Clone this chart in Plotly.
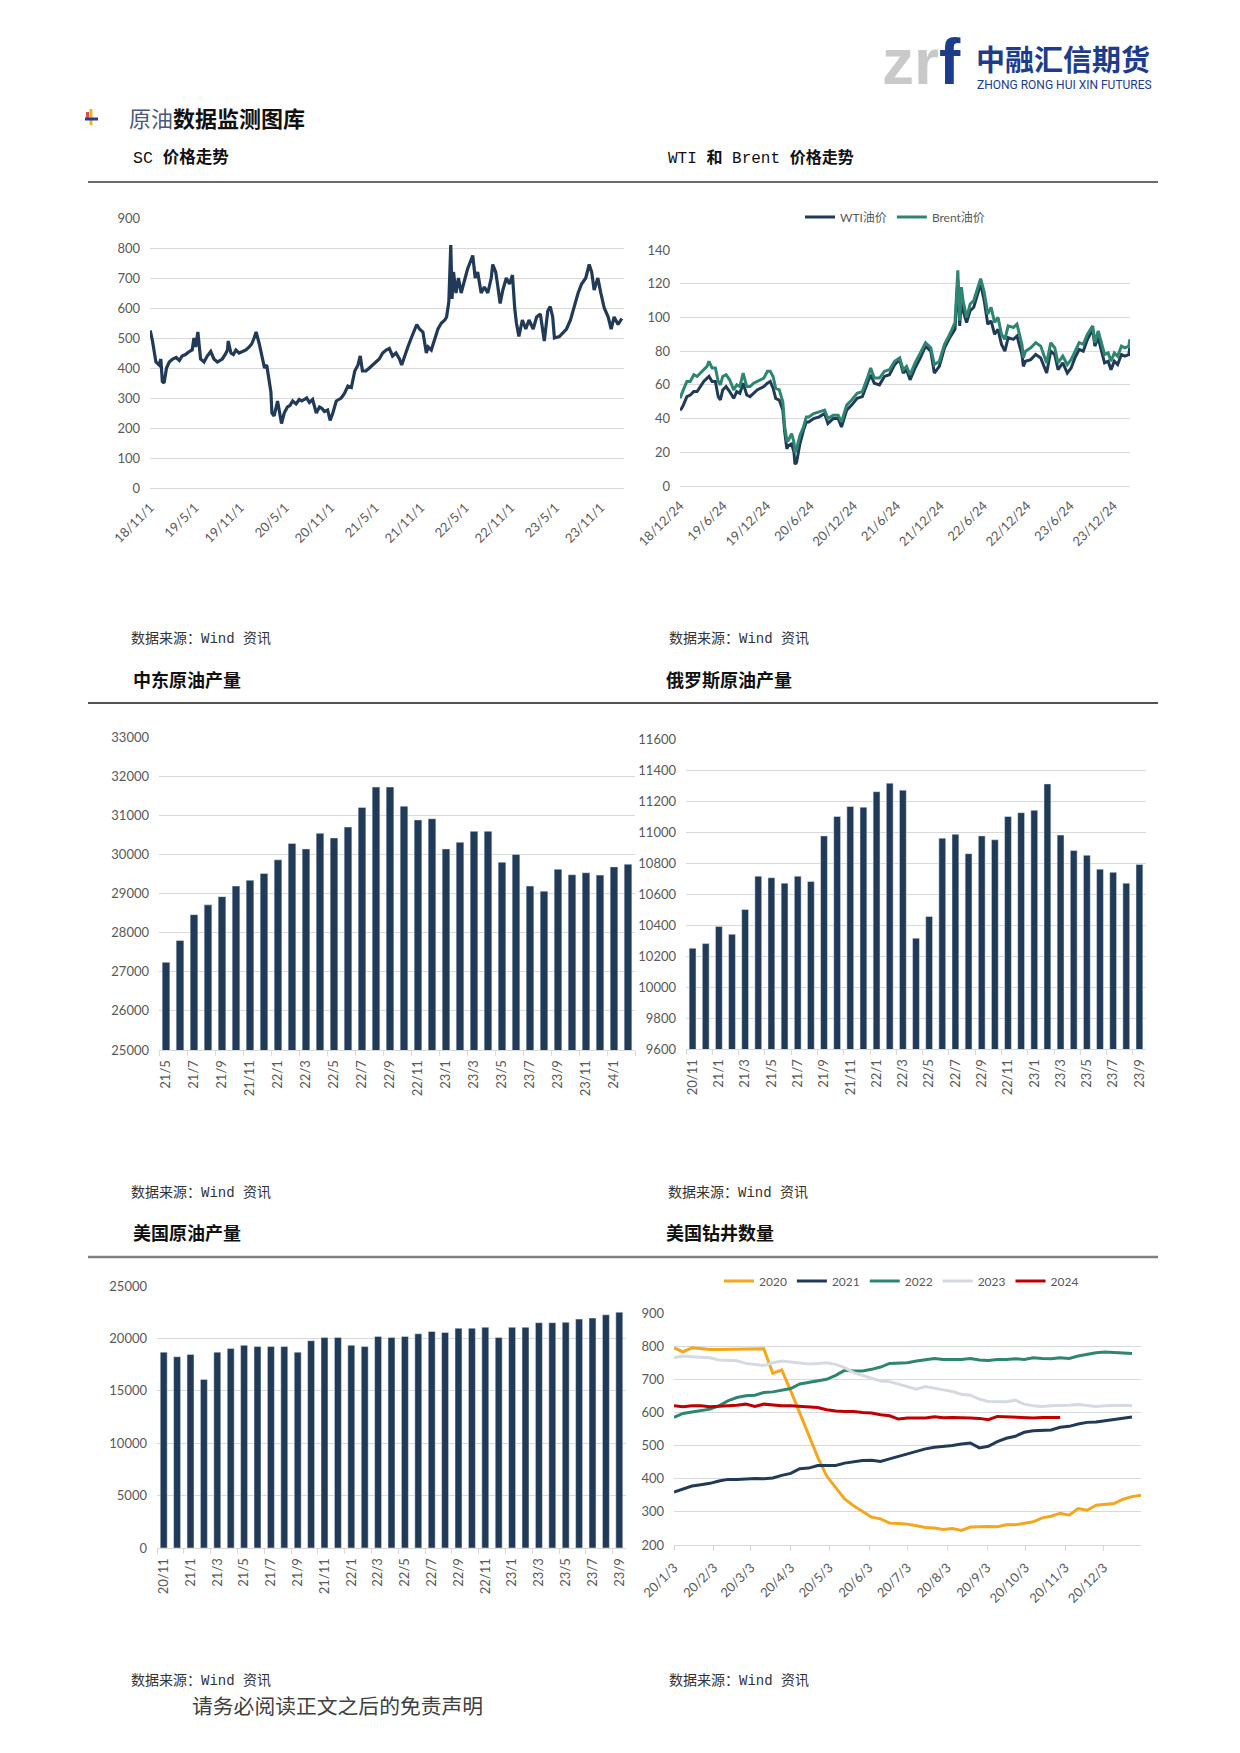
import plotly.graph_objects as go
import pandas as pd

W, H = 1240, 1753

# ---------------- data ----------------
sc_dates = ["2018-11-01","2018-11-10","2018-11-24","2018-12-07","2018-12-14","2018-12-20","2018-12-27",
 "2019-01-06","2019-01-17","2019-01-31","2019-02-14","2019-02-27","2019-03-10","2019-03-24","2019-04-08",
 "2019-04-20","2019-04-27","2019-05-04","2019-05-13","2019-05-24","2019-06-07","2019-06-20","2019-07-04",
 "2019-07-17","2019-07-31","2019-08-10","2019-08-20","2019-09-01","2019-09-10","2019-09-13","2019-09-24",
 "2019-10-04","2019-10-14","2019-10-27","2019-11-10","2019-11-24","2019-12-07","2019-12-17","2019-12-27",
 "2020-01-04","2020-01-17","2020-01-31","2020-02-07","2020-02-16","2020-02-24","2020-03-04","2020-03-08",
 "2020-03-17","2020-03-31","2020-04-07","2020-04-16","2020-04-27","2020-05-10","2020-05-20","2020-05-31",
 "2020-06-14","2020-06-27","2020-07-07","2020-07-17","2020-07-27","2020-08-07","2020-08-20","2020-09-04",
 "2020-09-17","2020-09-27","2020-10-07","2020-10-20","2020-10-30","2020-11-10","2020-11-24","2020-12-04",
 "2020-12-14","2020-12-27","2021-01-10","2021-01-24","2021-02-07","2021-02-20","2021-03-01","2021-03-10",
 "2021-03-24","2021-04-07","2021-04-20","2021-05-04","2021-05-17","2021-05-31","2021-06-14","2021-06-27",
 "2021-07-10","2021-07-24","2021-08-07","2021-08-16","2021-08-27","2021-09-10","2021-09-24","2021-10-07",
 "2021-10-16","2021-10-27","2021-11-10","2021-11-24","2021-12-01","2021-12-14","2021-12-27","2022-01-10",
 "2022-01-24","2022-02-07","2022-02-14","2022-02-23","2022-03-03","2022-03-08","2022-03-14","2022-03-24",
 "2022-04-03","2022-04-14","2022-04-27","2022-05-10","2022-05-24","2022-05-31","2022-06-10","2022-06-20",
 "2022-07-04","2022-07-17","2022-07-31","2022-08-14","2022-08-20","2022-09-01","2022-09-10","2022-09-19",
 "2022-09-30","2022-10-14","2022-10-27","2022-11-08","2022-11-17","2022-11-24","2022-12-04","2022-12-18",
 "2023-01-01","2023-01-14","2023-01-31","2023-02-14","2023-03-01","2023-03-10","2023-03-17","2023-03-31",
 "2023-04-10","2023-04-20","2023-04-27","2023-05-17","2023-06-01","2023-06-15","2023-07-01","2023-07-15",
 "2023-08-01","2023-08-15","2023-09-01","2023-09-15","2023-09-25","2023-10-05","2023-10-20","2023-11-01",
 "2023-11-15","2023-12-01","2023-12-13","2023-12-25","2024-01-10","2024-01-25"]
sc_values = [525,490,420,410,430,355,350,
 400,420,430,435,425,440,445,455,
 460,500,470,520,430,420,440,455,
 430,420,425,430,445,460,490,450,
 445,460,450,455,460,470,480,500,
 520,480,430,400,410,370,320,250,
 240,290,260,215,250,270,275,290,
 280,295,290,295,300,285,295,250,
 270,265,255,260,225,250,290,295,
 300,315,340,335,390,410,440,390,
 390,400,410,420,430,450,460,465,
 440,450,430,410,440,470,500,530,
 545,530,520,450,470,460,490,530,
 550,560,570,620,810,630,720,650,
 700,650,690,730,760,775,700,720,
 650,670,650,700,745,720,670,615,
 660,700,680,710,600,550,505,560,
 530,560,530,570,580,530,490,590,
 605,570,500,505,520,530,560,600,
 650,680,700,745,720,660,700,650,
 600,570,530,570,545,565]
sc_tick_dates = ["2018-11-01","2019-05-01","2019-11-01","2020-05-01","2020-11-01","2021-05-01",
                 "2021-11-01","2022-05-01","2022-11-01","2023-05-01","2023-11-01"]
sc_tick_labels = ["18/11/1","19/5/1","19/11/1","20/5/1","20/11/1","21/5/1",
                  "21/11/1","22/5/1","22/11/1","23/5/1","23/11/1"]

oil_dates = ["2018-12-24","2018-12-31","2019-01-07","2019-01-22","2019-02-05","2019-02-20","2019-03-06",
 "2019-03-20","2019-04-03","2019-04-17","2019-04-25","2019-05-08","2019-05-22","2019-06-03","2019-06-12",
 "2019-06-22","2019-07-06","2019-07-21","2019-08-07","2019-08-20","2019-09-02","2019-09-16","2019-10-01",
 "2019-10-15","2019-10-30","2019-11-14","2019-11-28","2019-12-12","2019-12-27","2020-01-08","2020-01-20",
 "2020-01-31","2020-02-15","2020-03-01","2020-03-09","2020-03-18","2020-03-24","2020-04-07","2020-04-17",
 "2020-04-21","2020-04-28","2020-05-12","2020-05-27","2020-06-08","2020-06-18","2020-07-09","2020-08-01",
 "2020-08-24","2020-09-07","2020-09-29","2020-10-20","2020-11-03","2020-11-25","2020-12-16","2021-01-08",
 "2021-01-30","2021-02-20","2021-03-06","2021-03-21","2021-04-12","2021-05-03","2021-05-24","2021-06-15",
 "2021-07-06","2021-07-21","2021-08-04","2021-08-19","2021-09-09","2021-10-01","2021-10-23","2021-11-14",
 "2021-11-29","2021-12-20","2022-01-11","2022-02-02","2022-02-24","2022-03-08","2022-03-16","2022-03-23",
 "2022-03-30","2022-04-14","2022-04-29","2022-05-14","2022-05-28","2022-06-12","2022-06-27","2022-07-12",
 "2022-07-26","2022-08-10","2022-08-24","2022-09-08","2022-09-22","2022-10-06","2022-10-28","2022-11-12",
 "2022-12-03","2022-12-09","2022-12-18","2023-01-09","2023-01-30","2023-02-20","2023-03-17","2023-04-03",
 "2023-04-20","2023-05-04","2023-05-24","2023-06-12","2023-06-28","2023-07-14","2023-08-01","2023-08-18",
 "2023-09-05","2023-09-27","2023-10-06","2023-10-20","2023-11-03","2023-11-16","2023-12-01","2023-12-13",
 "2023-12-27","2024-01-10","2024-01-26","2024-02-09","2024-02-26","2024-03-01"]
wti_values = [45,46,48,53,54,56,56,
 59,62,64,65,62,62,53,51,
 57,59,56,52,56,55,61,54,
 53,55,57,58,59,61,62,58,
 52,51,45,32,22,24,25,20,
 13,14,25,33,38,38,40,41,
 43,37,40,40,35,45,48,52,
 53,61,66,61,60,65,66,72,
 75,67,69,63,70,76,83,80,
 67,71,82,88,93,122,95,112,
 104,97,104,106,113,120,110,96,
 98,90,93,84,80,88,87,89,
 78,71,74,75,78,76,67,80,
 78,69,73,67,70,76,81,80,
 87,93,83,88,80,73,74,69,
 74,72,78,77,78,82]
brent_values = [52,55,57,62,62,66,65,
 67,69,71,74,70,70,62,60,
 65,66,63,57,60,59,67,59,
 59,61,62,63,64,68,68,65,
 58,57,50,35,27,27,31,26,
 20,22,30,35,41,41,43,44,
 45,40,42,42,38,48,51,55,
 56,64,70,64,64,68,69,74,
 76,69,71,66,73,79,85,82,
 72,74,84,90,97,128,98,118,
 110,100,108,110,116,123,115,102,
 106,97,100,90,87,95,94,96,
 84,76,80,82,85,83,73,85,
 82,73,77,72,75,80,85,84,
 90,95,85,92,85,78,79,74,
 79,77,83,82,83,87]
oil_tick_dates = ["2018-12-24","2019-06-24","2019-12-24","2020-06-24","2020-12-24","2021-06-24",
                  "2021-12-24","2022-06-24","2022-12-24","2023-06-24","2023-12-24"]
oil_tick_labels = ["18/12/24","19/6/24","19/12/24","20/6/24","20/12/24","21/6/24",
                   "21/12/24","22/6/24","22/12/24","23/6/24","23/12/24"]

me_months = ["21/5","21/6","21/7","21/8","21/9","21/10","21/11","21/12",
 "22/1","22/2","22/3","22/4","22/5","22/6","22/7","22/8","22/9","22/10","22/11","22/12",
 "23/1","23/2","23/3","23/4","23/5","23/6","23/7","23/8","23/9","23/10","23/11","23/12",
 "24/1","24/2"]
me_values = [27240,27800,28460,28710,28920,29190,29340,29510,
 29860,30280,30140,30540,30420,30700,31200,31720,31720,31230,30880,30910,
 30140,30310,30590,30590,29800,30000,29190,29060,29620,29480,29530,29470,
 29680,29750]

ru_months = ["20/11","20/12",
 "21/1","21/2","21/3","21/4","21/5","21/6","21/7","21/8","21/9","21/10","21/11","21/12",
 "22/1","22/2","22/3","22/4","22/5","22/6","22/7","22/8","22/9","22/10","22/11","22/12",
 "23/1","23/2","23/3","23/4","23/5","23/6","23/7","23/8","23/9"]
ru_values = [10250,10280,
 10390,10340,10500,10715,10705,10670,10715,10680,10975,11100,11165,11160,
 11260,11315,11270,10315,10455,10960,10985,10860,10975,10950,11100,11125,
 11140,11310,10980,10880,10850,10760,10740,10670,10790]

us_months = ["20/11","20/12",
 "21/1","21/2","21/3","21/4","21/5","21/6","21/7","21/8","21/9","21/10","21/11","21/12",
 "22/1","22/2","22/3","22/4","22/5","22/6","22/7","22/8","22/9","22/10","22/11","22/12",
 "23/1","23/2","23/3","23/4","23/5","23/6","23/7","23/8","23/9"]
us_values = [18690,18250,
 18470,16090,18690,19030,19340,19220,19220,19220,18690,19780,20090,20090,
 19340,19220,20190,20090,20190,20440,20660,20560,20970,20970,21060,20090,
 21060,21060,21500,21500,21530,21840,21940,22250,22500]

rig_2020 = [795,783,795,792,790,790,790,792,790,792,
 792,718,728,665,600,530,465,408,374,339,
 318,301,284,279,266,265,263,258,253,251,
 247,250,244,254,256,256,255,261,261,266,
 270,282,287,296,290,310,305,320,323,325,
 338,346,350]
rig_2021 = [360,370,378,382,386,393,398,398,400,401,
 400,402,410,416,430,432,440,440,440,447,
 452,455,456,452,460,468,475,482,490,495,
 497,500,505,508,493,498,512,522,528,540,
 545,546,547,555,558,565,570,571,575,578,
 583,586]
rig_2022 = [585,597,601,605,610,620,635,645,650,652,
 660,662,668,672,686,690,695,700,712,727,
 725,725,730,737,748,748,750,755,760,763,
 760,760,760,763,758,757,760,760,762,760,
 765,763,762,765,763,770,775,780,782,780,
 778,778]
rig_2023 = [765,770,768,766,765,758,757,756,748,745,
 742,750,755,752,748,746,748,750,745,735,
 720,712,705,695,693,686,678,670,678,672,
 668,663,655,652,640,633,633,632,637,625,
 620,618,620,620,622,624,620,618,620,622,
 622,620]
rig_2024 = [620,617,620,620,617,618,620,622,625,618,
 625,622,620,620,618,618,615,608,604,603,
 603,600,598,593,590,580,583,583,583,587,
 584,585,583,583,582,578,588,587,585,584,
 583,585,585,585]
rig_years = ["2020","2021","2022","2023","2024"]
rig_tick_dates = ["2020-01-03","2020-02-03","2020-03-03","2020-04-03","2020-05-03","2020-06-03",
                  "2020-07-03","2020-08-03","2020-09-03","2020-10-03","2020-11-03","2020-12-03"]
rig_tick_labels = ["20/1/3","20/2/3","20/3/3","20/4/3","20/5/3","20/6/3",
                   "20/7/3","20/8/3","20/9/3","20/10/3","20/11/3","20/12/3"]

# ---------------- styling ----------------
NAVY = "#203A58"
TEAL = "#2E8670"
ORANGE = "#F4A71D"
LGRAY = "#D5DAE0"
RED = "#C00000"
GRID = "#D9D9D9"
TICKC = "#595959"
TICK_FONT = dict(family="Lato, Noto Sans CJK SC, sans-serif", size=13, color=TICKC)
LEG_FONT = dict(family="Lato, Noto Sans CJK SC, sans-serif", size=12, color=TICKC)
SONG = "Liberation Mono, Noto Sans CJK SC, monospace"
CJK = "Noto Sans CJK SC, sans-serif"


def xd(x0, x1):
    return [x0 / W, x1 / W]


def yd(y0, y1):
    return [1 - y1 / H, 1 - y0 / H]


fig = go.Figure()

fig.add_trace(go.Scatter(x=sc_dates, y=sc_values, mode="lines", line=dict(color=NAVY, width=3.2),
                         xaxis="x", yaxis="y", showlegend=False))
fig.add_trace(go.Scatter(x=oil_dates, y=wti_values, mode="lines", name="WTI油价",
                         line=dict(color=NAVY, width=3), xaxis="x2", yaxis="y2", legend="legend"))
fig.add_trace(go.Scatter(x=oil_dates, y=brent_values, mode="lines", name="Brent油价",
                         line=dict(color=TEAL, width=3), xaxis="x2", yaxis="y2", legend="legend"))
fig.add_trace(go.Bar(x=me_months, y=me_values, marker_color=NAVY, width=0.55,
                     xaxis="x3", yaxis="y3", showlegend=False))
fig.add_trace(go.Bar(x=ru_months, y=ru_values, marker_color=NAVY, width=0.52,
                     xaxis="x4", yaxis="y4", showlegend=False))
fig.add_trace(go.Bar(x=us_months, y=us_values, marker_color=NAVY, width=0.52,
                     xaxis="x5", yaxis="y5", showlegend=False))
rig_series = [rig_2020, rig_2021, rig_2022, rig_2023, rig_2024]
rig_colors = [ORANGE, NAVY, TEAL, LGRAY, RED]
rig_weeks = pd.date_range("2020-01-03", periods=len(rig_2020), freq="7D")
for name, vals, col in zip(rig_years, rig_series, rig_colors):
    fig.add_trace(go.Scatter(x=rig_weeks[:len(vals)], y=vals, mode="lines", name=name,
                             line=dict(color=col, width=3), xaxis="x6", yaxis="y6",
                             legend="legend2"))

common_y = dict(showgrid=True, gridcolor=GRID, gridwidth=1, zeroline=False, showline=False,
                tickfont=TICK_FONT, ticks="", ticklabelstandoff=9, fixedrange=True,
                tickmode="linear", tickformat="d", automargin=False)
common_x = dict(showgrid=False, zeroline=False, showline=True, linecolor=GRID, linewidth=1,
                tickfont=TICK_FONT, fixedrange=True, automargin=False)

layout = dict(
    width=W, height=H, autosize=False,
    margin=dict(l=0, r=0, t=0, b=0, pad=0, autoexpand=False),
    paper_bgcolor="white", plot_bgcolor="white",
    font=dict(family=CJK, color="#222"),
    xaxis=dict(common_x, domain=xd(150, 624), anchor="y", type="date",
               range=["2018-10-31", "2024-02-03"], tickmode="array",
               tickvals=sc_tick_dates, ticktext=sc_tick_labels, tickangle=-45,
               ticks="", ticklabelstandoff=6),
    yaxis=dict(common_y, domain=yd(218, 488), anchor="x", range=[0, 900], tick0=0, dtick=100),
    xaxis2=dict(common_x, domain=xd(680, 1130), anchor="y2", type="date",
                range=["2018-12-24", "2024-03-02"], tickmode="array",
                tickvals=oil_tick_dates, ticktext=oil_tick_labels, tickangle=-45,
                ticks="", ticklabelstandoff=6),
    yaxis2=dict(common_y, domain=yd(250, 486), anchor="x2", range=[0, 140], tick0=0, dtick=20),
    xaxis3=dict(common_x, domain=xd(159, 635), anchor="y3", type="category",
                range=[-0.5, len(me_months) - 0.5], tickmode="linear", tick0=0, dtick=2,
                tickangle=-90, ticks="outside", ticklen=5, tickcolor=GRID, tickson="boundaries",
                ticklabelstandoff=4),
    yaxis3=dict(common_y, domain=yd(737, 1050), anchor="x3", range=[25000, 33000],
                tick0=25000, dtick=1000),
    xaxis4=dict(common_x, domain=xd(686, 1146), anchor="y4", type="category",
                range=[-0.5, len(ru_months) - 0.5], tickmode="linear", tick0=0, dtick=2,
                tickangle=-90, ticks="outside", ticklen=5, tickcolor=GRID, tickson="boundaries",
                ticklabelstandoff=4),
    yaxis4=dict(common_y, domain=yd(739, 1049), anchor="x4", range=[9600, 11600],
                tick0=9600, dtick=200),
    xaxis5=dict(common_x, domain=xd(157, 626), anchor="y5", type="category",
                range=[-0.5, len(us_months) - 0.5], tickmode="linear", tick0=0, dtick=2,
                tickangle=-90, ticks="outside", ticklen=5, tickcolor=GRID, tickson="boundaries",
                ticklabelstandoff=4),
    yaxis5=dict(common_y, domain=yd(1286, 1548), anchor="x5", range=[0, 25000],
                tick0=0, dtick=5000),
    xaxis6=dict(common_x, domain=xd(674, 1141), anchor="y6", type="date",
                range=["2020-01-03", "2021-01-01"], tickmode="array",
                tickvals=rig_tick_dates, ticktext=rig_tick_labels, tickangle=-45,
                ticks="outside", ticklen=5, tickcolor=GRID, ticklabelstandoff=4),
    yaxis6=dict(common_y, domain=yd(1313, 1545), anchor="x6", range=[200, 900],
                tick0=200, dtick=100),
    legend=dict(orientation="h", x=800 / W, xanchor="left", y=1 - 217 / H, yanchor="middle",
                font=LEG_FONT, bgcolor="rgba(0,0,0,0)", borderwidth=0, itemwidth=30,
                tracegroupgap=0),
    legend2=dict(orientation="h", x=719 / W, xanchor="left", y=1 - 1281 / H, yanchor="middle",
                 font=LEG_FONT, bgcolor="rgba(0,0,0,0)", borderwidth=0, itemwidth=30,
                 tracegroupgap=0),
    hovermode=False,
)
fig.update_layout(**layout)

ann = []


def text(x, y, s, size, color="#111", family=CJK, xanchor="left", yanchor="middle"):
    ann.append(dict(x=x / W, y=1 - y / H, xref="paper", yref="paper", text=s, showarrow=False,
                    xanchor=xanchor, yanchor=yanchor,
                    font=dict(family=family, size=size, color=color)))


# logo
text(880, 62, "<b><span style='color:#C9C9C9'>zr</span><span style='color:#1C3D8C'>f</span></b>",
     64, family="Liberation Sans, sans-serif")
text(974, 58, "<b>中融汇信期货</b>", 29, color="#1C3D8C")
text(975, 85, "ZHONG RONG HUI XIN FUTURES", 12, color="#1C3D8C", family="Roboto, sans-serif")

# section header
text(127, 117, "<span style='color:#4A5A7C'>原油</span><b>数据监测图库</b>", 22, color="#111")

# chart titles
text(131, 158, "SC <b>价格走势</b>", 16.5, family=SONG)
text(666, 158, "WTI <b>和</b> Brent <b>价格走势</b>", 16, family=SONG)
text(131, 679, "<b>中东原油产量</b>", 18)
text(664, 679, "<b>俄罗斯原油产量</b>", 18)
text(131, 1232, "<b>美国原油产量</b>", 18)
text(664, 1232, "<b>美国钻井数量</b>", 18)

# sources
for (sx, sy) in [(129, 639), (667, 639), (129, 1193), (666, 1193), (129, 1681), (667, 1681)]:
    text(sx, sy, "数据来源：Wind 资讯", 14, color="#333", family=SONG)

# footer
text(190, 1705, "请务必阅读正文之后的免责声明", 20.8, color="#404040")

fig.update_layout(annotations=ann)

shapes = []


def hline(y, color, width):
    shapes.append(dict(type="line", xref="paper", yref="paper", x0=88 / W, x1=1158 / W,
                       y0=1 - y / H, y1=1 - y / H, line=dict(color=color, width=width)))


hline(182, "#3A3A3A", 1.3)
hline(703, "#1A1A1A", 1.5)
hline(1257, "#808080", 2.5)

# small bullet icon
shapes.append(dict(type="line", xref="paper", yref="paper", x0=91 / W, x1=91 / W,
                   y0=1 - 109 / H, y1=1 - 125 / H, line=dict(color="#E8B820", width=3)))
shapes.append(dict(type="rect", xref="paper", yref="paper", x0=86 / W, x1=89 / W,
                   y0=1 - 112 / H, y1=1 - 119 / H, line=dict(width=0), fillcolor="#E05050"))
shapes.append(dict(type="line", xref="paper", yref="paper", x0=85 / W, x1=98 / W,
                   y0=1 - 119 / H, y1=1 - 119 / H, line=dict(color="#2A3C9A", width=3)))
fig.update_layout(shapes=shapes)

fig.write_html("out.html", config={"displayModeBar": False},
               post_script="document.body.style.margin='0';document.body.style.overflow='hidden';")
